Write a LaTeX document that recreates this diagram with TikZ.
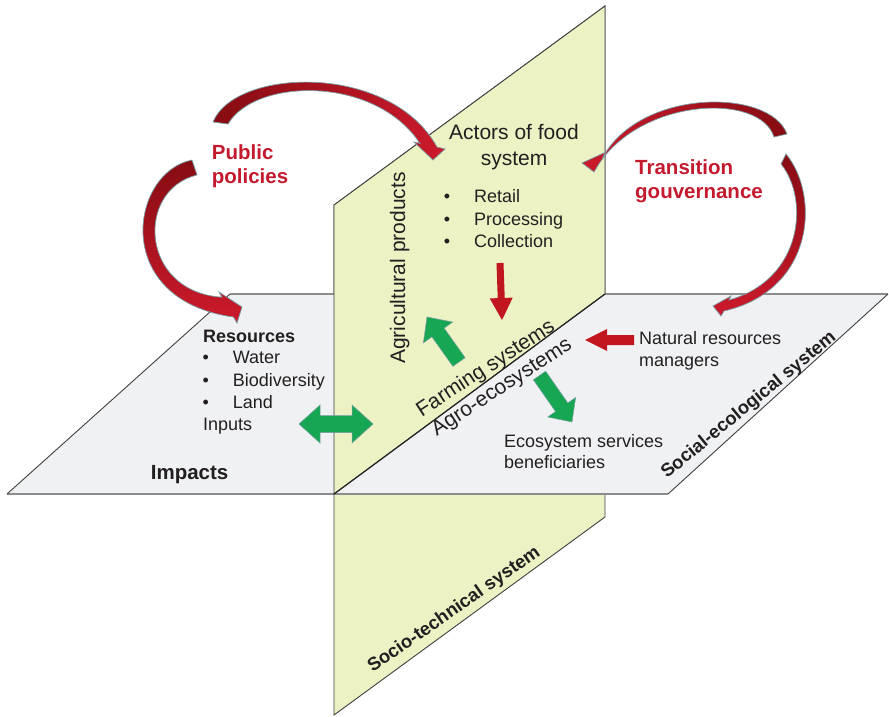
\documentclass[tikz,border=0pt]{standalone}
\usepackage{fontspec}
\setmainfont{Liberation Sans}
\usetikzlibrary{calc}
\definecolor{vplane}{HTML}{EDF2C5}
\definecolor{hplane}{HTML}{F0F1F3}
\definecolor{txtc}{HTML}{231F20}
\definecolor{redt}{HTML}{C41A2E}
\definecolor{arrred}{HTML}{C1161F}
\definecolor{darkr}{HTML}{860C12}
\definecolor{brightr}{HTML}{CC1A2C}
\definecolor{greenA}{HTML}{17A651}
\definecolor{outl}{HTML}{7A9EA6}
\newcommand{\blockarrow}[6]{%
  \coordinate (ba-T) at #2;
  \coordinate (ba-P) at #3;
  \coordinate (ba-B) at ($(ba-P)!#6!(ba-T)$);
  \path[#1] ($(ba-T)!#4!90:(ba-P)$) -- ($(ba-B)!#4!90:(ba-P)$) -- ($(ba-B)!#5!90:(ba-P)$)
    -- (ba-P) -- ($(ba-B)!#5!-90:(ba-P)$) -- ($(ba-B)!#4!-90:(ba-P)$) -- ($(ba-T)!#4!-90:(ba-P)$) -- cycle;
}
\begin{document}
\begin{tikzpicture}[x=1pt,y=-1pt,
  vedge/.style={draw=black!75, line width=0.9pt},
  hplanestyle/.style={fill=hplane},
  hgrey/.style={draw=black!45, line width=1.7pt},
  hdark/.style={draw=black!75, line width=0.9pt},
  txt/.style={inner sep=0pt, text=txtc, font=\fontsize{18}{21}\selectfont},
  big/.style={inner sep=0pt, text=txtc, font=\fontsize{21}{25}\selectfont},
  bbig/.style={inner sep=0pt, text=txtc, font=\bfseries\fontsize{20.5}{24}\selectfont},
  rtitle/.style={inner sep=0pt, text=redt, font=\bfseries\fontsize{20.5}{24}\selectfont},
  sys/.style={inner sep=0pt, text=txtc, font=\bfseries\fontsize{18.5}{22}\selectfont},
  greenarrow/.style={fill=greenA, draw=outl, line width=0.5pt},
  redarrow/.style={fill=arrred},
  curved/.style={draw=outl, line width=0.7pt}
]
\useasboundingbox (0,0) rectangle (889,717);

% vertical plane (full)
\path[fill=vplane, vedge] (334,205) -- (605,6) -- (605,517) -- (334,715) -- cycle;
% horizontal plane
\path[hplanestyle] (230,294) -- (888,294) -- (668,494) -- (7,494) -- cycle;
\draw[hgrey] (230,294) -- (888,294);
\draw[hgrey] (7,494) -- (668,494);
\draw[hdark] (230,294) -- (7,494);
\draw[hdark] (888,294) -- (668,494);
% upper half of vertical plane in front
\path[fill=vplane, vedge] (334,205) -- (605,6) -- (605,294) -- (334,494) -- cycle;
\draw[draw=black!85, line width=1.2pt] (605,294) -- (334,494);

% texts
\node[big, anchor=base] (act1) at (514,139.5) {Actors of food};
\node[big, anchor=base] (act2) at (514,165) {system};
\node[txt, anchor=base] (bu1) at (447,202.3) {•};
\node[txt, anchor=base west] (retail) at (474,202.3) {Retail};
\node[txt, anchor=base] (bu2) at (447,225) {•};
\node[txt, anchor=base west] (proc) at (474,225) {Processing};
\node[txt, anchor=base] (bu3) at (447,247.3) {•};
\node[txt, anchor=base west] (coll) at (474,247.3) {Collection};

\node[txt, font=\bfseries\fontsize{18}{21}\selectfont, anchor=base west] (res) at (203,342) {Resources};
\node[txt, anchor=base] (bu4) at (205.7,363.3) {•};
\node[txt, anchor=base west] (water) at (232.7,363.3) {Water};
\node[txt, anchor=base] (bu5) at (205.7,386) {•};
\node[txt, anchor=base west] (biod) at (232.7,386) {Biodiversity};
\node[txt, anchor=base] (bu6) at (205.7,408.3) {•};
\node[txt, anchor=base west] (land) at (232.7,408.3) {Land};
\node[txt, anchor=base west] (inputs) at (203,430) {Inputs};

\node[bbig, anchor=base west] (impacts) at (150.7,479) {Impacts};
\node[rtitle, anchor=base west] (pub1) at (211.7,159) {Public};
\node[rtitle, anchor=base west] (pub2) at (211.7,183) {policies};
\node[rtitle, anchor=base west] (tr1) at (635,174) {Transition};
\node[rtitle, anchor=base west] (tr2) at (635,198) {gouvernance};

\node[txt, anchor=base west] (nat1) at (639,344) {Natural resources};
\node[txt, anchor=base west] (nat2) at (639,366) {managers};
\node[txt, anchor=base west] (eco1) at (504,447) {Ecosystem services};
\node[txt, anchor=base west] (eco2) at (504,468) {beneficiaries};

\node[big, anchor=base, rotate=90] (agri) at (405,268) {Agricultural products};
\node[big, anchor=base, rotate=33] (farm) at (489,373.6) {Farming systems};
\node[big, anchor=base, rotate=33] (agro) at (505,392) {Agro-ecosystems};
\node[sys, anchor=base, rotate=39.5] (ses) at (752,409) {Social-ecological system};
\node[sys, anchor=base, rotate=35] (sts) at (457,614) {Socio-technical system};

% straight arrows
\blockarrow{redarrow}{(500,263)}{(502,320)}{3.5pt}{11.5pt}{22pt}
\blockarrow{redarrow}{(634,340)}{(585,340)}{5pt}{11pt}{22pt}
\blockarrow{greenarrow}{(459,362)}{(427,317)}{7.5pt}{18pt}{19pt}
\blockarrow{greenarrow}{(539.5,375.5)}{(572,422)}{7.5pt}{17pt}{18pt}
\path[greenarrow] (299,424) -- (320,405) -- (320,415.5) -- (352,415.5) -- (352,405) -- (373,424)
  -- (352,443) -- (352,432.5) -- (320,432.5) -- (320,443) -- cycle;

% curved arrows
\path[curved, left color=darkr, right color=brightr]
  (213,122) .. controls (235,68) and (390,62) .. (437,147) -- (445,149) -- (433,160) -- (414,142) -- (420,143.5)
  .. controls (375,75) and (255,78) .. (228,124) -- cycle;
\path[curved, top color=darkr, bottom color=brightr]
  (192,160) .. controls (130,172) and (110,300) .. (233.5,317) -- (237,323) -- (242,307) -- (219,292) -- (222,297.2)
  .. controls (140,292) and (135,190) .. (197,175) -- cycle;
\path[curved, left color=brightr, right color=darkr]
  (787,134) .. controls (770,88) and (640,88) .. (602.4,158) -- (606,152) -- (582,163) -- (594,172) -- (597.6,166)
  .. controls (640,98) and (760,92) .. (774,137) -- cycle;
\path[curved, top color=darkr, bottom color=brightr]
  (786,154) .. controls (820,195) and (815,290) .. (724,311) -- (721,316) -- (713,306) -- (731,296) -- (729,300)
  .. controls (802,280) and (810,200) .. (781,164) -- cycle;
\end{tikzpicture}
\end{document}
